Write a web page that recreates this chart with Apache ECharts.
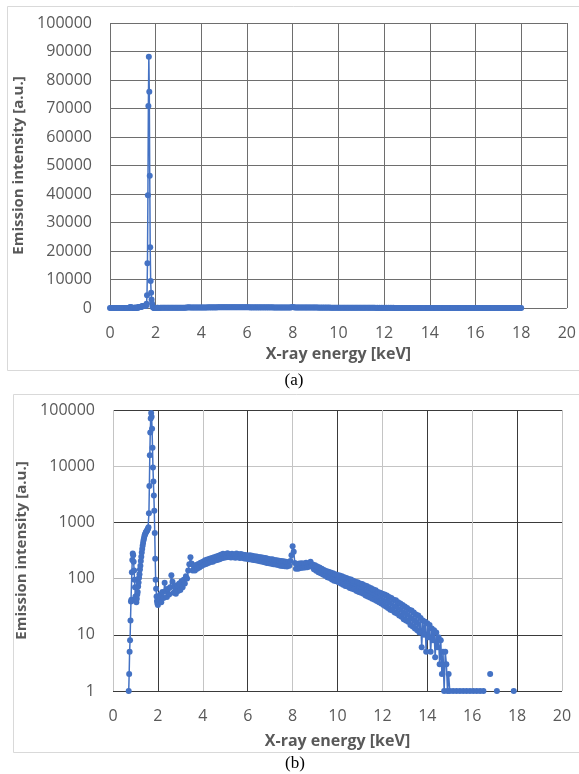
<!DOCTYPE html>
<html>
<head>
<meta charset="utf-8">
<script src="https://cdn.jsdelivr.net/npm/echarts@6/dist/echarts.min.js"></script>
<style>
html,body{margin:0;padding:0;background:#fff;}
#c{width:579px;height:774px;}
</style>
</head>
<body>
<div id="c"></div>
<script>
// ---------- DATA (X-ray energy in keV, emission intensity in a.u.) ----------
const xTickValues = [0, 2, 4, 6, 8, 10, 12, 14, 16, 18, 20];
const linTickValues = [0, 10000, 20000, 30000, 40000, 50000, 60000, 70000, 80000, 90000, 100000];
const logTickValues = [1, 10, 100, 1000, 10000, 100000];

// 0 - 0.65 keV: no counts
const lowEnergy = [0, 0.05, 0.10, 0.15, 0.20, 0.25, 0.30, 0.35, 0.40, 0.45, 0.50, 0.55, 0.60, 0.65];
const lowIntensity = [0, 0, 0, 0, 0, 0, 0, 0, 0, 0, 0, 0, 0, 0];

// 0.70 - 2.08 keV: O peak and Si K-alpha peak
const peakEnergy = [
  0.70, 0.72, 0.74, 0.76, 0.78, 0.80, 0.82, 0.84, 0.86, 0.88,
  0.90, 0.92, 0.94, 0.96, 0.98, 1.00, 1.02, 1.04, 1.06, 1.08,
  1.10, 1.12, 1.14, 1.16, 1.18, 1.20, 1.22, 1.24, 1.26, 1.28,
  1.30, 1.32, 1.34, 1.36, 1.38, 1.40, 1.42, 1.44, 1.46, 1.48,
  1.50, 1.52, 1.54, 1.56, 1.58, 1.60, 1.62, 1.64, 1.66, 1.68,
  1.70, 1.72, 1.74, 1.76, 1.78, 1.80, 1.82, 1.84, 1.86, 1.88,
  1.90, 1.92, 1.94, 1.96, 1.98, 2.00, 2.02, 2.04, 2.06, 2.08
];
const peakIntensity = [
  1, 2, 5, 8, 18, 39, 42, 130, 215, 280,
  260, 200, 140, 95, 70, 48, 40, 38, 44, 52,
  58, 72, 85, 104, 120, 145, 170, 205, 245, 290,
  335, 385, 430, 480, 525, 570, 600, 630, 660, 680,
  700, 720, 745, 780, 820, 1450, 4450, 15700, 39600, 70900,
  88200, 75900, 46400, 21300, 9470, 5370, 3000, 1620, 650, 225,
  95, 66, 48, 40, 36, 34, 42, 38, 47, 41
];

// 2.10 - 15.00 keV: bremsstrahlung continuum
const contEnergy = [
  2.10, 2.15, 2.20, 2.25, 2.30, 2.35, 2.40, 2.45, 2.50, 2.55,
  2.60, 2.65, 2.70, 2.75, 2.80, 2.85, 2.90, 2.95, 3.00, 3.05,
  3.10, 3.15, 3.20, 3.25, 3.30, 3.35, 3.40, 3.45, 3.50, 3.55,
  3.60, 3.65, 3.70, 3.75, 3.80, 3.85, 3.90, 3.95, 4.00, 4.05,
  4.10, 4.15, 4.20, 4.25, 4.30, 4.35, 4.40, 4.45, 4.50, 4.55,
  4.60, 4.65, 4.70, 4.75, 4.80, 4.85, 4.90, 4.95, 5.00, 5.05,
  5.10, 5.15, 5.20, 5.25, 5.30, 5.35, 5.40, 5.45, 5.50, 5.55,
  5.60, 5.65, 5.70, 5.75, 5.80, 5.85, 5.90, 5.95, 6.00, 6.05,
  6.10, 6.15, 6.20, 6.25, 6.30, 6.35, 6.40, 6.45, 6.50, 6.55,
  6.60, 6.65, 6.70, 6.75, 6.80, 6.85, 6.90, 6.95, 7.00, 7.05,
  7.10, 7.15, 7.20, 7.25, 7.30, 7.35, 7.40, 7.45, 7.50, 7.55,
  7.60, 7.65, 7.70, 7.75, 7.80, 7.85, 7.90, 7.95, 8.00, 8.05,
  8.10, 8.15, 8.20, 8.25, 8.30, 8.35, 8.40, 8.45, 8.50, 8.55,
  8.60, 8.65, 8.70, 8.75, 8.80, 8.85, 8.90, 8.95, 9.00, 9.05,
  9.10, 9.15, 9.20, 9.25, 9.30, 9.35, 9.40, 9.45, 9.50, 9.55,
  9.60, 9.65, 9.70, 9.75, 9.80, 9.85, 9.90, 9.95, 10.00, 10.05,
  10.10, 10.15, 10.20, 10.25, 10.30, 10.35, 10.40, 10.45, 10.50, 10.55,
  10.60, 10.65, 10.70, 10.75, 10.80, 10.85, 10.90, 10.95, 11.00, 11.05,
  11.10, 11.15, 11.20, 11.25, 11.30, 11.35, 11.40, 11.45, 11.50, 11.55,
  11.60, 11.65, 11.70, 11.75, 11.80, 11.85, 11.90, 11.95, 12.00, 12.05,
  12.10, 12.15, 12.20, 12.25, 12.30, 12.35, 12.40, 12.45, 12.50, 12.55,
  12.60, 12.65, 12.70, 12.75, 12.80, 12.85, 12.90, 12.95, 13.00, 13.05,
  13.10, 13.15, 13.20, 13.25, 13.30, 13.35, 13.40, 13.45, 13.50, 13.55,
  13.60, 13.65, 13.70, 13.75, 13.80, 13.85, 13.90, 13.95, 14.00, 14.05,
  14.10, 14.15, 14.20, 14.25, 14.30, 14.35, 14.40, 14.45, 14.50, 14.55,
  14.60, 14.65, 14.70, 14.75, 14.80, 14.85, 14.90, 14.95, 15.00
];
const contIntensity = [
  52, 38, 58, 45, 84, 60, 47, 66, 52, 70,
  115, 88, 56, 72, 54, 76, 60, 82, 63, 90,
  70, 95, 82, 110, 100, 140, 180, 240, 185, 140,
  170, 140, 175, 150, 182, 158, 192, 168, 200, 176,
  212, 182, 218, 190, 226, 198, 232, 200, 240, 210,
  248, 215, 256, 222, 266, 230, 278, 236, 270, 240,
  282, 242, 272, 238, 276, 240, 268, 236, 280, 240,
  270, 232, 275, 236, 266, 228, 262, 226, 258, 222,
  260, 218, 254, 215, 250, 212, 248, 208, 242, 204,
  240, 200, 236, 196, 232, 190, 226, 188, 222, 184,
  220, 180, 214, 178, 212, 174, 208, 170, 206, 168,
  204, 166, 200, 164, 196, 170, 205, 260, 375, 300,
  190, 150, 182, 150, 185, 154, 188, 156, 186, 158,
  192, 160, 186, 165, 200, 170, 178, 146, 172, 138,
  165, 130, 158, 124, 150, 118, 142, 112, 136, 106,
  132, 102, 128, 96, 124, 92, 120, 90, 116, 86,
  114, 82, 110, 78, 106, 74, 102, 72, 98, 68,
  96, 66, 92, 64, 88, 60, 86, 58, 82, 56,
  80, 54, 76, 50, 74, 48, 70, 46, 67, 44,
  64, 42, 62, 40, 58, 38, 56, 36, 54, 34,
  52, 32, 50, 30, 47, 28, 45, 27, 42, 25,
  41, 24, 38, 22, 36, 21, 34, 19, 32, 18,
  30, 17, 28, 15, 27, 14, 25, 13, 23, 12,
  22, 11, 20, 6, 18, 10, 17, 5, 16, 9,
  15, 5, 13, 8, 12, 4, 11, 6, 9, 3,
  8, 2, 5, 1, 5, 3, 1, 2, 1
];

// 15.05 - 18.00 keV: tail, mostly empty channels
const tailEnergy = [
  15.05, 15.10, 15.15, 15.20, 15.25, 15.30, 15.35, 15.40, 15.45, 15.50,
  15.55, 15.60, 15.65, 15.70, 15.75, 15.80, 15.85, 15.90, 15.95, 16.00,
  16.05, 16.10, 16.15, 16.20, 16.25, 16.30, 16.35, 16.40, 16.45, 16.50,
  16.55, 16.60, 16.65, 16.70, 16.75, 16.80, 16.85, 16.90, 16.95, 17.00,
  17.05, 17.10, 17.15, 17.20, 17.25, 17.30, 17.35, 17.40, 17.45, 17.50,
  17.55, 17.60, 17.65, 17.70, 17.75, 17.80, 17.85, 17.90, 17.95, 18.00
];
const tailIntensity = [
  0, 0, 1, 0, 0, 1, 0, 0, 1, 0,
  0, 1, 0, 0, 1, 0, 0, 1, 0, 0,
  1, 0, 0, 1, 0, 0, 1, 0, 0, 1,
  0, 0, 0, 0, 0, 2, 0, 0, 0, 0,
  0, 1, 0, 0, 0, 0, 0, 0, 0, 0,
  0, 0, 0, 0, 0, 0, 1, 0, 0, 0
];

// ---------- BUILD ----------
const energy = [].concat(lowEnergy, peakEnergy, contEnergy, tailEnergy);
const intensity = [].concat(lowIntensity, peakIntensity, contIntensity, tailIntensity);
const linearData = energy.map((e, i) => [e, intensity[i]]);
const logData = energy.map((e, i) => [e, intensity[i] > 0 ? intensity[i] : '-']);

const BLUE = '#4472C4';
const LABEL = '#595959';
const FONT = '"Open Sans", "DejaVu Sans", sans-serif';
const plain = v => String(v);

const chart = echarts.init(document.getElementById('c'), null, { renderer: 'canvas' });
chart.setOption({
  animation: false,
  backgroundColor: '#ffffff',
  grid: [
    { left: 110, top: 23, width: 457, height: 285 },
    { left: 113, top: 410, width: 449, height: 281 }
  ],
  xAxis: [
    {
      gridIndex: 0, type: 'value', min: xTickValues[0], max: xTickValues[xTickValues.length - 1], interval: 2,
      axisLine: { show: false }, axisTick: { show: false },
      splitLine: { show: true, lineStyle: { color: '#6e6e6e', width: 1 } },
      axisLabel: { fontSize: 16, color: LABEL, fontFamily: FONT, margin: 17, formatter: plain },
      name: 'X-ray energy [keV]', nameLocation: 'middle', nameGap: 38,
      nameTextStyle: { fontSize: 16, fontWeight: 'bold', color: LABEL, fontFamily: FONT }
    },
    {
      gridIndex: 1, type: 'value', min: xTickValues[0], max: xTickValues[xTickValues.length - 1], interval: 2,
      axisLine: { show: false }, axisTick: { show: false },
      splitLine: { show: true, lineStyle: { color: ['#c4c4c4', '#3a3a3a'], width: 1 } },
      axisLabel: { fontSize: 16, color: LABEL, fontFamily: FONT, margin: 17, formatter: plain },
      name: 'X-ray energy [keV]', nameLocation: 'middle', nameGap: 42,
      nameTextStyle: { fontSize: 16, fontWeight: 'bold', color: LABEL, fontFamily: FONT }
    }
  ],
  yAxis: [
    {
      gridIndex: 0, type: 'value', min: linTickValues[0], max: linTickValues[linTickValues.length - 1], interval: 10000,
      axisLine: { show: false }, axisTick: { show: false },
      splitLine: { show: true, lineStyle: { color: '#6e6e6e', width: 1 } },
      axisLabel: { fontSize: 16, color: LABEL, fontFamily: FONT, margin: 18, formatter: plain },
      name: 'Emission intensity [a.u.]', nameLocation: 'middle', nameGap: 71, nameRotate: 90,
      nameTextStyle: { fontSize: 15, fontWeight: 'bold', color: LABEL, fontFamily: FONT }
    },
    {
      gridIndex: 1, type: 'log', logBase: 10, min: logTickValues[0], max: logTickValues[logTickValues.length - 1],
      axisLine: { show: false }, axisTick: { show: false },
      splitLine: { show: true, lineStyle: { color: ['#3a3a3a', '#3a3a3a', '#b4b4b4', '#3a3a3a', '#c4c4c4', '#3a3a3a'], width: 1 } },
      axisLabel: { fontSize: 16, color: LABEL, fontFamily: FONT, margin: 18, formatter: plain },
      name: 'Emission intensity [a.u.]', nameLocation: 'middle', nameGap: 70, nameRotate: 90,
      nameTextStyle: { fontSize: 15, fontWeight: 'bold', color: LABEL, fontFamily: FONT }
    }
  ],
  series: [
    {
      type: 'line', xAxisIndex: 0, yAxisIndex: 0, data: linearData,
      symbol: 'circle', symbolSize: 6, showAllSymbol: true,
      lineStyle: { color: BLUE, width: 1.5 }, itemStyle: { color: BLUE },
      emphasis: { disabled: true }
    },
    {
      type: 'line', xAxisIndex: 1, yAxisIndex: 1, data: logData, connectNulls: false,
      symbol: 'circle', symbolSize: 6, showAllSymbol: true,
      lineStyle: { color: BLUE, width: 1.5 }, itemStyle: { color: BLUE },
      emphasis: { disabled: true }
    }
  ],
  graphic: [
    { type: 'rect', silent: true, z: -10, shape: { x: 7.5, y: 6.5, width: 620, height: 364 },
      style: { fill: 'none', stroke: '#d9d9d9', lineWidth: 1 } },
    { type: 'rect', silent: true, z: -10, shape: { x: 13.5, y: 394.5, width: 620, height: 358 },
      style: { fill: 'none', stroke: '#d9d9d9', lineWidth: 1 } },
    { type: 'text', silent: true, x: 294, y: 381,
      style: { text: '(a)', font: '17px "Liberation Serif", serif', fill: '#000', align: 'center', verticalAlign: 'middle' } },
    { type: 'text', silent: true, x: 295, y: 764,
      style: { text: '(b)', font: '17px "Liberation Serif", serif', fill: '#000', align: 'center', verticalAlign: 'middle' } }
  ]
});
</script>
</body>
</html>
